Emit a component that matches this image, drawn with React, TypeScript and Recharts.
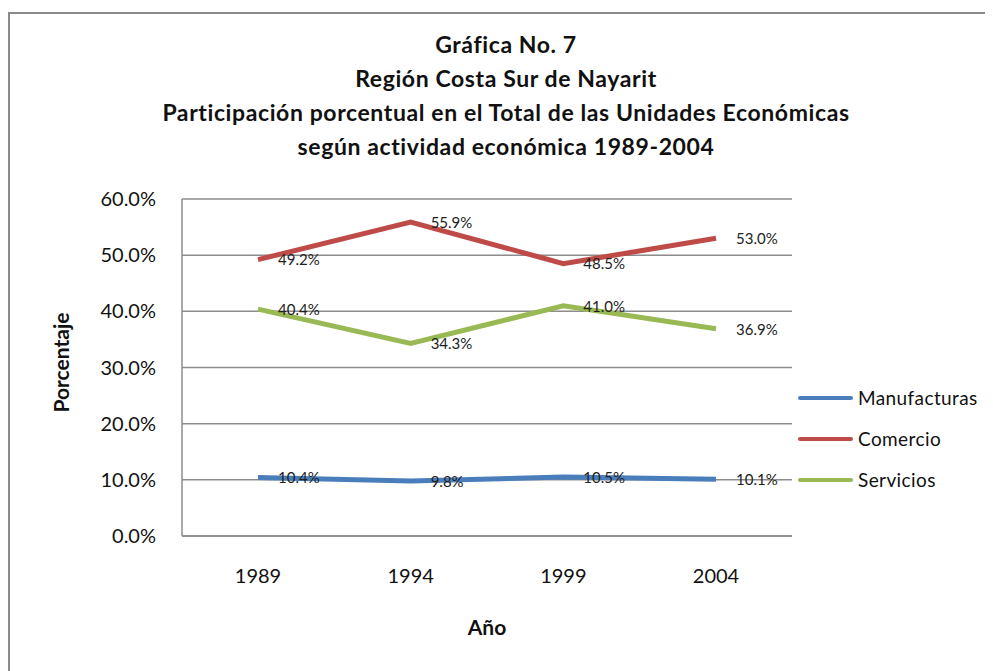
import { LineChart, Line, XAxis, YAxis, CartesianGrid, LabelList, Label } from 'recharts';

const years = ['1989', '1994', '1999', '2004'];
const manufacturas = [10.4, 9.8, 10.5, 10.1];
const comercio = [49.2, 55.9, 48.5, 53.0];
const servicios = [40.4, 34.3, 41.0, 36.9];
const yTicks = [0, 10, 20, 30, 40, 50, 60];
const titleLines = [
  'Gráfica No. 7',
  'Región Costa Sur de Nayarit',
  'Participación porcentual en el Total de las Unidades Económicas',
  'según actividad económica 1989-2004',
];

const series = [
  { key: 'Manufacturas', color: '#4A7EBB' },
  { key: 'Comercio', color: '#BE4B48' },
  { key: 'Servicios', color: '#98B954' },
];

const data = years.map((year, i) => ({
  year,
  Manufacturas: manufacturas[i],
  Comercio: comercio[i],
  Servicios: servicios[i],
}));

const FONT = 'Lato, "Open Sans", sans-serif';
const W = 985;
const H = 663;

// data label to the right of the point, like the Excel default
const PointLabel = (props: any) => {
  const { x, y, value } = props;
  return (
    <text x={x + 20} y={y + 2} fontSize={15} fontFamily={FONT} fill="#222" dominantBaseline="middle">
      {Number(value).toFixed(1)}%
    </text>
  );
};

export default function App() {
  return (
    <div style={{ position: 'relative', width: W, height: H, background: '#fff' }}>
      <div
        style={{
          position: 'absolute',
          left: 0,
          top: 4,
          width: W + 10,
          height: H + 10,
          border: '2px solid #8a8a8a',
          boxSizing: 'border-box',
        }}
      />
      <div
        style={{
          position: 'absolute',
          left: 0,
          top: 19,
          width: 996,
          textAlign: 'center',
          fontFamily: FONT,
          fontWeight: 700,
          fontSize: 23,
          letterSpacing: 0.6,
          lineHeight: '34px',
          color: '#111',
        }}
      >
        {titleLines.map((t) => (
          <div key={t}>{t}</div>
        ))}
      </div>
      <LineChart
        width={W}
        height={H}
        data={data}
        margin={{ top: 191, right: 201, bottom: 75, left: 0 }}
        style={{ position: 'absolute', left: 0, top: 0 }}
      >
        <CartesianGrid vertical={false} stroke="#8c8c8c" strokeWidth={1.5} />
        <XAxis
          dataKey="year"
          height={60}
          padding={{ left: 76, right: 76 }}
          axisLine={{ stroke: '#8c8c8c', strokeWidth: 1.5 }}
          tickLine={false}
          tickSize={0}
          tickMargin={33}
          tick={{ fontSize: 20, fill: '#111', fontFamily: FONT }}
        >
          <Label
            value="Año"
            position="insideBottom"
            offset={-39}
            style={{ fontSize: 21, fontWeight: 700, fill: '#111', fontFamily: FONT }}
          />
        </XAxis>
        <YAxis
          width={174}
          domain={[0, 60]}
          ticks={yTicks}
          interval={0}
          axisLine={{ stroke: '#8c8c8c', strokeWidth: 1.5 }}
          tickLine={false}
          tickSize={0}
          tickMargin={26}
          tick={{ fontSize: 20, fill: '#111', fontFamily: FONT }}
          tickFormatter={(v: number) => v.toFixed(1) + '%'}
        >
          <Label
            content={(p: any) => {
              const vb = p.viewBox;
              const cx = vb.x + 56;
              const cy = vb.y + vb.height / 2 - 5;
              return (
                <text
                  x={cx}
                  y={cy}
                  transform={`rotate(-90 ${cx} ${cy})`}
                  textAnchor="middle"
                  dominantBaseline="middle"
                  fontSize={21}
                  fontWeight={700}
                  fill="#111"
                  fontFamily={FONT}
                >
                  Porcentaje
                </text>
              );
            }}
          />
        </YAxis>
        {series.map((s) => (
          <Line
            key={s.key}
            type="linear"
            dataKey={s.key}
            stroke={s.color}
            strokeWidth={5}
            dot={false}
            activeDot={false}
            isAnimationActive={false}
          >
            <LabelList dataKey={s.key} content={PointLabel} />
          </Line>
        ))}
      </LineChart>
      <div
        style={{
          position: 'absolute',
          left: 790,
          top: 369,
          fontFamily: FONT,
          fontSize: 19,
          letterSpacing: 0.4,
          color: '#111',
        }}
      >
        {series.map((s) => (
          <div key={s.key} style={{ display: 'flex', alignItems: 'center', height: 41 }}>
            <span
              style={{ display: 'inline-block', width: 55, height: 4, background: s.color, marginRight: 5, borderRadius: 2 }}
            />
            {s.key}
          </div>
        ))}
      </div>
    </div>
  );
}
